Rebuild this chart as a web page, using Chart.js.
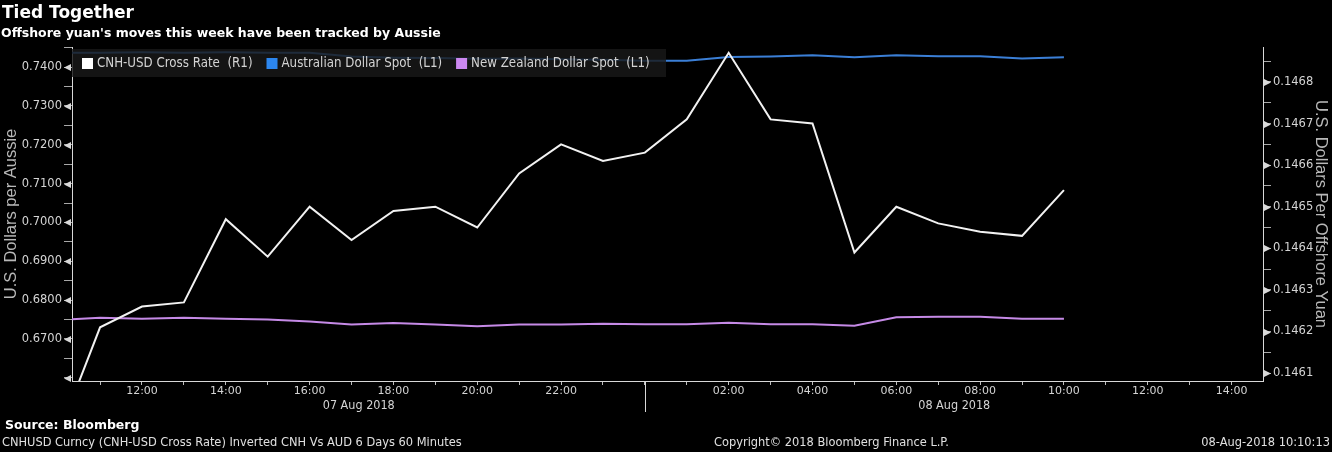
<!DOCTYPE html>
<html>
<head>
<meta charset="utf-8">
<script src="https://cdn.jsdelivr.net/npm/chart.js@4.4.1/dist/chart.umd.min.js"></script>
<style>
  html, body { margin: 0; padding: 0; background: #000; }
  #wrap { position: relative; width: 1332px; height: 452px; overflow: hidden; background: #000; }
  canvas { position: absolute; left: 0; top: 0; }
  .t { position: absolute; white-space: nowrap; color: #fff; }
  #title { left: 2px; top: 1px; font: bold 17px 'DejaVu Sans', sans-serif; line-height: 22px; }
  #subtitle { left: 1px; top: 25px; font: bold 12.5px 'DejaVu Sans', sans-serif; line-height: 15px; }
  #source { left: 5px; top: 417px; font: bold 12.5px 'DejaVu Sans', sans-serif; line-height: 15px; }
  .foot { top: 434px; font: 12.7px 'DejaVu Sans Condensed', 'Liberation Sans Narrow', sans-serif; line-height: 15px; color: #e0e0e0; }
</style>
</head>
<body>
<div id="wrap">
  <canvas id="chart" width="1332" height="452"></canvas>
  <div class="t" id="title">Tied Together</div>
  <div class="t" id="subtitle">Offshore yuan's moves this week have been tracked by Aussie</div>
  <div class="t" id="source">Source: Bloomberg</div>
  <div class="t foot" style="left:2px">CNHUSD Curncy (CNH-USD Cross Rate) Inverted CNH Vs AUD 6 Days 60 Minutes</div>
  <div class="t foot" style="left:714px">Copyright© 2018 Bloomberg Finance L.P.</div>
  <div class="t foot" style="right:2px">08-Aug-2018 10:10:13</div>
</div>
<script>
// hours counted from 07 Aug 2018 00:00, one point per hour
const hours = [10, 11, 12, 13, 14, 15, 16, 17, 18, 19, 20, 21, 22, 23,
               24, 25, 26, 27, 28, 29, 30, 31, 32, 33, 34];

// CNH-USD cross rate (right axis)
const cnhUsd = [0.14595, 0.14621, 0.14626, 0.14627, 0.14647, 0.14638, 0.14650, 0.14642,
                0.14649, 0.14650, 0.14645, 0.14658, 0.14665, 0.14661, 0.14663, 0.14671,
                0.14687, 0.14671, 0.14670, 0.14639, 0.14650, 0.14646, 0.14644, 0.14643,
                0.14654];

// Australian dollar spot (left axis)
const audUsd = [0.7437, 0.7437, 0.7438, 0.7437, 0.7438, 0.7437, 0.7437, 0.7427,
                0.7424, 0.7423, 0.7421, 0.7422, 0.7420, 0.7419, 0.7416, 0.7416,
                0.7426, 0.7427, 0.7430, 0.7425, 0.7430, 0.7428, 0.7428, 0.7422,
                0.7425];

// New Zealand dollar spot (left axis)
const nzdUsd = [0.6749, 0.6755, 0.6752, 0.6755, 0.6752, 0.6750, 0.6745, 0.6737,
                0.6741, 0.6737, 0.6733, 0.6737, 0.6737, 0.6739, 0.6738, 0.6738,
                0.6742, 0.6738, 0.6738, 0.6734, 0.6756, 0.6757, 0.6757, 0.6752,
                0.6752];

const seriesNames = ['CNH-USD Cross Rate  (R1)', 'Australian Dollar Spot  (L1)', 'New Zealand Dollar Spot  (L1)'];
const dayLabels = ['07 Aug 2018', '08 Aug 2018'];

const xTickHours = [11, 12, 13, 14, 15, 16, 17, 18, 19, 20, 21, 22, 23, 24, 25,
                    26, 27, 28, 29, 30, 31, 32, 33, 34, 35, 36, 37, 38];
const leftTicks = [0.660, 0.665, 0.670, 0.675, 0.680, 0.685, 0.690, 0.695, 0.700,
                   0.705, 0.710, 0.715, 0.720, 0.725, 0.730, 0.735, 0.740, 0.745];
const rightTicks = [0.14610, 0.14615, 0.14620, 0.14625, 0.14630, 0.14635, 0.14640, 0.14645,
                    0.14650, 0.14655, 0.14660, 0.14665, 0.14670, 0.14675, 0.14680, 0.14685];

const FONT = "'DejaVu Sans Condensed', 'Liberation Sans Narrow', 'DejaVu Sans', sans-serif";
const TICKFONT = "'DejaVu Sans', sans-serif";
const TEXT = '#d4d4d4';
const AXIS = '#d8d8d8';

function isMajor(v, step) {
    const k = v / step;
    return Math.abs(k - Math.round(k)) < 1e-6;
}

function hourLabel(h) {
    return String(h % 24).padStart(2, '0') + ':00';
}

// arrow heads on the labelled y ticks
const tickArrows = {
    id: 'tickArrows',
    afterDraw(chart) {
        const ctx = chart.ctx;
        ctx.save();
        ctx.fillStyle = AXIS;
        const yl = chart.scales.y;
        yl.ticks.forEach(t => {
            if (!isMajor(t.value, 0.01)) return;
            const y = Math.round(yl.getPixelForValue(t.value)) + 0.5;
            const x0 = yl.right;
            ctx.beginPath();
            ctx.moveTo(x0 - 8, y);
            ctx.lineTo(x0 - 1, y - 3.5);
            ctx.lineTo(x0 - 1, y + 3.5);
            ctx.closePath();
            ctx.fill();
        });
        const yr = chart.scales.y1;
        yr.ticks.forEach(t => {
            if (!isMajor(t.value, 0.0001)) return;
            const y = Math.round(yr.getPixelForValue(t.value)) + 0.5;
            const x0 = yr.left;
            ctx.beginPath();
            ctx.moveTo(x0 + 8, y);
            ctx.lineTo(x0 + 1, y - 3.5);
            ctx.lineTo(x0 + 1, y + 3.5);
            ctx.closePath();
            ctx.fill();
        });
        ctx.restore();
    }
};

// day separator and date captions under the time axis
const dayMarks = {
    id: 'dayMarks',
    afterDraw(chart) {
        const x = chart.scales.x;
        const area = chart.chartArea;
        const ctx = chart.ctx;
        const splitX = Math.round(x.getPixelForValue(24)) + 0.5;
        ctx.save();
        ctx.strokeStyle = AXIS;
        ctx.lineWidth = 1;
        ctx.beginPath();
        ctx.moveTo(splitX, area.bottom);
        ctx.lineTo(splitX, area.bottom + 31);
        ctx.stroke();
        ctx.font = '12.5px ' + FONT;
        ctx.fillStyle = TEXT;
        ctx.textAlign = 'center';
        ctx.textBaseline = 'middle';
        ctx.fillText(dayLabels[0], (area.left + splitX) / 2, area.bottom + 25);
        ctx.fillText(dayLabels[1], (splitX + area.right) / 2, area.bottom + 25);
        ctx.restore();
    }
};

// legend drawn as a dark strip over the top of the plot
const boxLegend = {
    id: 'boxLegend',
    afterDatasetsDraw(chart) {
        const ctx = chart.ctx;
        const area = chart.chartArea;
        ctx.save();
        ctx.font = '13.2px ' + FONT;
        ctx.fillStyle = 'rgba(24,24,24,0.82)';
        ctx.fillRect(area.left, 49, 594, 28);
        let x = area.left + 10;
        const y = 63;
        chart.data.datasets.forEach(ds => {
            ctx.fillStyle = ds.legendColor;
            ctx.fillRect(x, y - 5, 11, 11);
            x += 15;
            ctx.fillStyle = TEXT;
            ctx.textBaseline = 'middle';
            ctx.fillText(ds.label, x, y + 1);
            x += ctx.measureText(ds.label).width + 14;
        });
        ctx.restore();
    }
};

function points(values) {
    return hours.map((h, i) => ({ x: h, y: values[i] }));
}

new Chart(document.getElementById('chart'), {
    type: 'line',
    data: {
        datasets: [
            {
                label: seriesNames[0],
                data: points(cnhUsd),
                yAxisID: 'y1',
                borderColor: '#f2f2f2',
                legendColor: '#ffffff',
                borderWidth: 2,
                pointRadius: 0,
                tension: 0
            },
            {
                label: seriesNames[1],
                data: points(audUsd),
                yAxisID: 'y',
                borderColor: '#3b7fd6',
                legendColor: '#2c86ee',
                borderWidth: 2,
                pointRadius: 0,
                tension: 0
            },
            {
                label: seriesNames[2],
                data: points(nzdUsd),
                yAxisID: 'y',
                borderColor: '#c58ae6',
                legendColor: '#cc88f0',
                borderWidth: 2,
                pointRadius: 0,
                tension: 0
            }
        ]
    },
    options: {
        responsive: false,
        animation: false,
        events: [],
        layout: { padding: { top: 47, bottom: 45, left: 0, right: 0 } },
        plugins: {
            legend: { display: false },
            tooltip: { enabled: false }
        },
        scales: {
            x: {
                type: 'linear',
                min: 10.33,
                max: 38.75,
                afterBuildTicks: s => { s.ticks = xTickHours.map(v => ({ value: v })); },
                afterFit: s => { s.height = 26; },
                border: { color: AXIS, width: 1 },
                grid: { drawOnChartArea: false, drawTicks: true, tickLength: 4, color: '#bdbdbd' },
                ticks: {
                    autoSkip: false,
                    maxRotation: 0,
                    padding: 0,
                    color: TEXT,
                    font: { family: TICKFONT, size: 11 },
                    callback: v => (v % 2 === 0 && v !== 24 ? hourLabel(v) : '')
                }
            },
            y: {
                position: 'left',
                min: 0.65919,
                max: 0.74515,
                afterBuildTicks: s => { s.ticks = leftTicks.map(v => ({ value: v })); },
                afterFit: s => { s.width = 72; },
                border: { color: AXIS, width: 1 },
                grid: { drawOnChartArea: false, drawTicks: true, tickLength: 8, color: '#a8a8a8' },
                ticks: {
                    padding: 2,
                    color: TEXT,
                    font: { family: TICKFONT, size: 11.5 },
                    callback: v => (isMajor(v, 0.01) && v > 0.665 ? v.toFixed(4) : '')
                },
                title: {
                    display: true,
                    text: 'U.S. Dollars per Aussie',
                    color: '#b8b8b8',
                    font: { family: "'Liberation Sans', Arial, sans-serif", size: 16.5 },
                    padding: { top: 2, bottom: 0 }
                }
            },
            y1: {
                position: 'right',
                min: 0.146081,
                max: 0.146884,
                afterBuildTicks: s => { s.ticks = rightTicks.map(v => ({ value: v })); },
                afterFit: s => { s.width = 69; },
                border: { color: AXIS, width: 1 },
                grid: { drawOnChartArea: false, drawTicks: true, tickLength: 8, color: '#a8a8a8' },
                ticks: {
                    padding: 2,
                    color: TEXT,
                    font: { family: TICKFONT, size: 11.5 },
                    callback: v => (isMajor(v, 0.0001) ? v.toFixed(4) : '')
                },
                title: {
                    display: true,
                    text: 'U.S. Dollars Per Offshore Yuan',
                    color: '#b8b8b8',
                    font: { family: "'Liberation Sans', Arial, sans-serif", size: 16.5 },
                    padding: { top: 2, bottom: 0 }
                }
            }
        }
    },
    plugins: [boxLegend, tickArrows, dayMarks]
});
</script>
</body>
</html>
